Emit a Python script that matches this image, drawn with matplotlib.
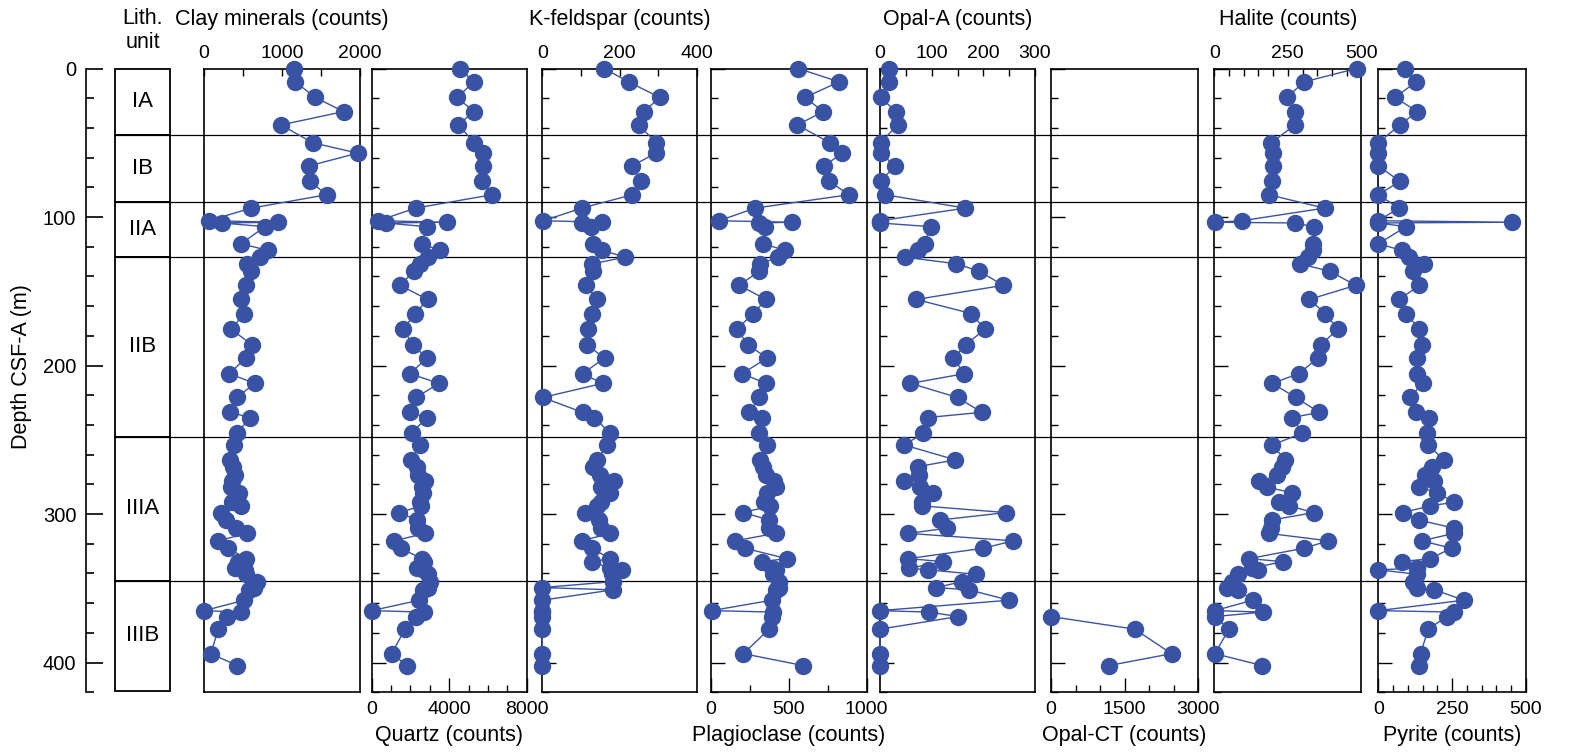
import numpy as np
import matplotlib
matplotlib.use("Agg")
import matplotlib.pyplot as plt
from matplotlib.lines import Line2D
from matplotlib.patches import Rectangle
from matplotlib.ticker import MultipleLocator
from matplotlib.transforms import blended_transform_factory

plt.rcParams['font.family'] = ['Liberation Sans', 'DejaVu Sans']
plt.rcParams['font.size'] = 14

# sample depths (m CSF-A), shared by all the XRD series
depth = [0, 9, 19.5, 29, 38, 50, 57, 65.5, 76, 85,
         94, 102.5, 103.5, 104, 106.5, 118, 122.5, 127, 131.5, 136.5,
         146, 155.5, 165, 175.5, 186, 195, 205.5, 212, 221.5, 231.5,
         235, 245.5, 253.5, 263.5, 268, 274, 278, 282, 285.5, 292,
         294.5, 299, 304, 309.5, 313, 318, 323, 330, 332, 336.5,
         337.5, 340.5, 345.5, 349.5, 351, 358, 365, 366, 369, 377.5,
         394, 402]

clay = [1155, 1172, 1428, 1791, 989, 1395, 1971, 1352, 1360, 1574,
        609, 64, 947, 230, 784, 477, 827, 716, 550, 601,
        545, 477, 520, 349, 618, 537, 328, 656, 422, 341,
        592, 430, 392, 337, 379, 405, 366, 349, 456, 366,
        481, 217, 285, 409, 550, 187, 315, 541, 435, 404,
        532, 545, 686, 640, 584, 520, 8, 481, 302, 187,
        90, 430]

quartz = [4540, 5260, 4420, 5260, 4470, 5300, 5730, 5760, 5690, 6210,
          2270, 340, 3870, 720, 2840, 2580, 3510, 2920, 2490, 2180,
          1460, 2890, 2240, 1630, 2120, 2840, 1980, 3470, 2290, 1980,
          2840, 2070, 2490, 2030, 2320, 2410, 2750, 2580, 2630, 2490,
          2560, 1430, 2320, 2410, 2750, 1170, 1500, 2580, 2700, 2320,
          2700, 2920, 3010, 2900, 2670, 2460, 0, 2700, 2270, 1720,
          1030, 1840]

kfeldspar = [160, 223, 304, 262, 249, 295, 293, 233, 255, 233,
             102, 3, 155, 102, 125, 132, 155, 215, 129, 132,
             113, 142, 129, 118, 115, 161, 104, 156, 1, 104,
             134, 175, 167, 142, 132, 149, 186, 151, 175, 153,
             141, 110, 146, 151, 175, 102, 128, 175, 129, 175,
             205, 181, 183, 0, 183, 0, 0, 0, 0, 0,
             0, 0]

plagioclase = [561, 822, 604, 721, 554, 764, 843, 728, 760, 886,
               283, 51, 522, 308, 347, 336, 475, 432, 315, 308,
               182, 353, 272, 165, 240, 358, 201, 353, 310, 246,
               326, 310, 358, 315, 336, 353, 407, 417, 358, 340,
               379, 208, 373, 373, 415, 154, 218, 486, 326, 390,
               417, 400, 439, 439, 420, 390, 4, 400, 390, 373,
               208, 593]

opal_a = [17, 18, 1, 31, 34, 1, 1, 29, 1, 10,
          165, 0, 0, 0, 98, 87, 74, 48, 148, 192,
          239, 70, 177, 203, 166, 142, 163, 59, 150, 197,
          92, 84, 47, 146, 74, 76, 47, 77, 102, 82,
          82, 244, 116, 130, 55, 258, 200, 55, 121, 57,
          92, 185, 159, 108, 172, 250, 0, 95, 151, 0,
          0, 0]

nan = np.nan
opal_ct = [nan] * 58 + [0, 1710, 2460, 1180]

halite = [484, 305, 247, 276, 274, 194, 199, 199, 196, 185,
          375, 94, 2, 274, 338, 337, 335, 320, 291, 393,
          481, 323, 378, 420, 363, 352, 287, 197, 277, 357,
          265, 299, 197, 242, 231, 214, 152, 180, 263, 220,
          255, 339, 195, 192, 185, 388, 305, 118, 233, 127,
          150, 80, 61, 42, 82, 130, 2, 165, 2, 50,
          2, 163]

pyrite = [91, 128, 57, 132, 73, 0, 0, 0, 73, 0,
          70, 0, 454, 0, 94, 0, 81, 105, 155, 119,
          139, 71, 94, 139, 149, 132, 132, 150, 107, 128,
          171, 164, 167, 224, 181, 158, 190, 139, 198, 257,
          175, 83, 138, 256, 256, 147, 248, 175, 81, 130,
          0, 130, 119, 130, 190, 290, 0, 256, 232, 169,
          143, 138]

unit_names = ["IA", "IB", "IIA", "IIB", "IIIA", "IIIB"]
unit_tops = [0, 44.7, 89.6, 127, 247.8, 345]
unit_base = 419

W, H = 1583, 754
fig = plt.figure(figsize=(W / 100, H / 100), dpi=100)

top_px, bot_px = 68.5, 692.3
ax_b = 1 - bot_px / H
ax_h = (bot_px - top_px) / H
DMAX = 420
TITLE_FS = 15.5


def add_ax(x0, x1):
    a = fig.add_axes([x0 / W, ax_b, (x1 - x0) / W, ax_h])
    a.patch.set_alpha(0)
    a.set_ylim(DMAX, 0)
    return a


blue = '#3953a4'

# name, values, pixel extent, xmax, label ticks, tick step, axis on top
panels = [
    ("Clay minerals (counts)", clay, (203.7, 360), 2000, [0, 1000, 2000], 500, True),
    ("Quartz (counts)", quartz, (371.7, 526.7), 8000, [0, 4000, 8000], 1000, False),
    ("K-feldspar (counts)", kfeldspar, (542.3, 697), 400, [0, 200, 400], 100, True),
    ("Plagioclase (counts)", plagioclase, (711, 866.7), 1000, [0, 500, 1000], 250, False),
    ("Opal-A (counts)", opal_a, (880, 1035), 300, [0, 100, 200, 300], 50, True),
    ("Opal-CT (counts)", opal_ct, (1051, 1198), 3000, [0, 1500, 3000], 500, False),
    ("Halite (counts)", halite, (1214.3, 1361.3), 500, [0, 250, 500], 50, True),
    ("Pyrite (counts)", pyrite, (1378.3, 1526), 500, [0, 250, 500], 50, False),
]

axes = []
for i, (title, vals, (x0, x1), xmax, labs, step, on_top) in enumerate(panels):
    ax = add_ax(x0, x1)
    ax.set_xlim(0, xmax)
    ax.plot(vals, depth, '-o', color=blue, lw=1.0, ms=11.5, clip_on=False, zorder=3)
    for s in ax.spines.values():
        s.set_linewidth(1.2)
    ax.set_xticks(labs)
    ax.xaxis.set_minor_locator(MultipleLocator(step))
    if on_top:
        ax.xaxis.tick_top()
        ax.tick_params(axis='x', which='major', direction='in', length=5, width=1,
                       pad=5, top=True, bottom=False, labeltop=True, labelbottom=False)
        ax.tick_params(axis='x', which='minor', direction='in', length=5, width=1,
                       top=True, bottom=False)
        fig.text((x0 + x1) / 2 / W, 1 - 19 / H, title, ha='center', va='center',
                 fontsize=TITLE_FS)
    else:
        ax.tick_params(axis='x', which='major', direction='in', length=10, width=1,
                       pad=6, top=False, bottom=True)
        ax.tick_params(axis='x', which='minor', direction='in', length=5, width=1,
                       top=False, bottom=True)
        fig.text((x0 + x1) / 2 / W, 1 - 735 / H, title, ha='center', va='center',
                 fontsize=TITLE_FS)
    if i == 0:
        ax.set_yticks([])
        ax.yaxis.set_minor_locator(matplotlib.ticker.NullLocator())
    else:
        ax.yaxis.set_major_locator(MultipleLocator(100))
        ax.yaxis.set_minor_locator(MultipleLocator(20))
        ax.tick_params(axis='y', which='major', direction='in', length=10, width=1,
                       left=True, right=False, labelleft=False)
        ax.tick_params(axis='y', which='minor', direction='in', length=5, width=1,
                       left=True, right=False)
    axes.append(ax)

# depth scale
dax = add_ax(86, 100)
for k in ['top', 'right', 'bottom']:
    dax.spines[k].set_visible(False)
dax.spines['left'].set_linewidth(1.2)
dax.set_xticks([])
dax.yaxis.set_major_locator(MultipleLocator(100))
dax.yaxis.set_minor_locator(MultipleLocator(20))
dax.tick_params(axis='y', which='major', direction='in', length=12, width=1.2, pad=7,
                labelsize=14.5)
dax.tick_params(axis='y', which='minor', direction='in', length=6, width=1.2)
fig.text(22 / W, 1 - 367 / H, "Depth CSF-A (m)", rotation=90, ha='center', va='center',
         fontsize=TITLE_FS)

# lithologic unit column
lax = add_ax(115, 170)
lax.set_xlim(0, 1)
lax.axis('off')
bounds = unit_tops + [unit_base]
for name, t, b in zip(unit_names, bounds[:-1], bounds[1:]):
    lax.add_patch(Rectangle((0, t), 1, b - t, fill=False, ec='black', lw=1.3, clip_on=False))
    lax.text(0.5, (t + b) / 2, name, ha='center', va='center', fontsize=16)
fig.text(143 / W, 1 - 18 / H, "Lith.", ha='center', va='center', fontsize=TITLE_FS)
fig.text(143 / W, 1 - 43 / H, "unit", ha='center', va='center', fontsize=TITLE_FS)

# unit boundaries running across every panel
tr = blended_transform_factory(fig.transFigure, lax.transData)
for d in unit_tops[1:]:
    fig.add_artist(Line2D([115 / W, 1526 / W], [d, d], transform=tr, color='black',
                          lw=0.9, zorder=-1))

fig.savefig("out.png", dpi=100)
